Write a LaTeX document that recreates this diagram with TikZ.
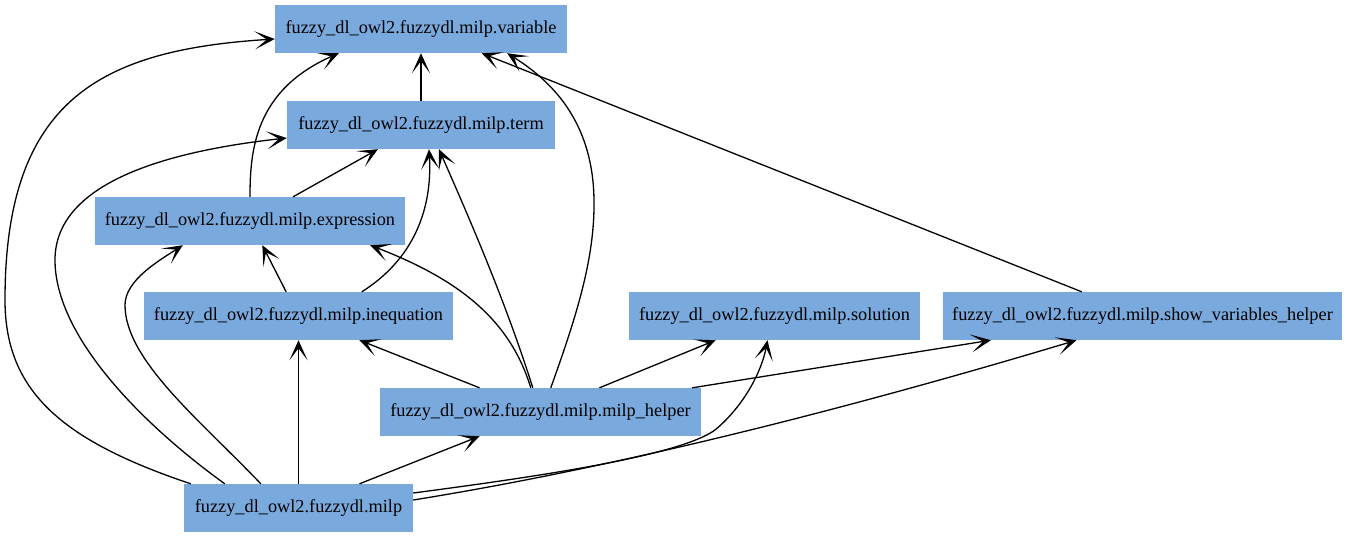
\documentclass[tikz,border=0pt]{standalone}
\usepackage{fontspec}
\setmainfont{Liberation Serif}
\usetikzlibrary{arrows.meta,positioning}
\definecolor{milpblue}{RGB}{122,169,221}

\begin{document}
\begin{tikzpicture}[
    x=1pt, y=-1pt,
    box/.style={fill=milpblue, minimum height=48pt, inner sep=0pt, font=\fontsize{18.3}{22}\selectfont},
    arrow/.style={-{Stealth[length=20pt,width=18pt,inset=12pt]}, line width=1.3pt}
]
    \useasboundingbox (0,0) rectangle (1347,539);

    \node[box, minimum width=292pt] (variable) at (421,29) {fuzzy\_dl\_owl2.fuzzydl.milp.variable};
    \node[box, minimum width=268pt] (term) at (421,125) {fuzzy\_dl\_owl2.fuzzydl.milp.term};
    \node[box, minimum width=310pt] (expression) at (250,221) {fuzzy\_dl\_owl2.fuzzydl.milp.expression};
    \node[box, minimum width=309pt] (inequation) at (298.5,316) {fuzzy\_dl\_owl2.fuzzydl.milp.inequation};
    \node[box, minimum width=291pt] (solution) at (774.5,316) {fuzzy\_dl\_owl2.fuzzydl.milp.solution};
    \node[box, minimum width=399pt] (showvars) at (1142.5,316) {fuzzy\_dl\_owl2.fuzzydl.milp.show\_variables\_helper};
    \node[box, minimum width=321pt] (helper) at (540.5,412) {fuzzy\_dl\_owl2.fuzzydl.milp.milp\_helper};
    \node[box, minimum width=229pt] (milp) at (298.5,508) {fuzzy\_dl\_owl2.fuzzydl.milp};

    % edges out of milp
    \draw[arrow] ([xshift=7pt]milp.north west) .. controls (60,440) and (5,390) .. (5,300)
        .. controls (5,100) and (100,50) .. ([yshift=-10pt]variable.west);
    \draw[arrow] ([xshift=41pt]milp.north west) .. controls (150,430) and (55,340) .. (55,260)
        .. controls (55,185) and (160,152) .. ([yshift=-13pt]term.west);
    \draw[arrow] ([xshift=77pt]milp.north west) .. controls (200,420) and (125,360) .. (125,305)
        .. controls (125,280) and (160,260) .. ([xshift=88pt]expression.south west);
    \draw[arrow] (milp) -- (inequation);
    \draw[arrow] (milp) -- (helper);
    \draw[arrow] ([yshift=15pt]milp.east) .. controls (550,475) and (680,455) .. (715,430)
        .. controls (745,405) and (762,370) .. ([xshift=-7pt]solution.south);
    \draw[arrow] ([yshift=8pt]milp.east) .. controls (550,478) and (760,435) .. ([xshift=-66pt]showvars.south);

    % edges out of milp_helper
    \draw[arrow] (helper) -- (inequation);
    \draw[arrow] ([xshift=151pt]helper.north west) .. controls (510,320) and (460,280) .. ([xshift=-35pt]expression.south east);
    \draw[arrow] ([xshift=153pt]helper.north west) .. controls (505,300) and (470,220) .. ([xshift=18pt]term.south);
    \draw[arrow] ([xshift=171pt]helper.north west) .. controls (575,320) and (595,260) .. (594,200)
        .. controls (593,120) and (550,80) .. ([xshift=-60pt]variable.south east);
    \draw[arrow] (helper) -- (solution);
    \draw[arrow] (helper) -- (showvars);

    % the rest
    \draw[arrow] (inequation) -- (expression);
    \draw[arrow] ([xshift=218pt]inequation.north west) .. controls (420,255) and (432,200) .. ([xshift=8pt]term.south);
    \draw[arrow] (expression) -- (term);
    \draw[arrow] (expression.north) .. controls (250,150) and (255,90) .. ([xshift=64pt]variable.south west);
    \draw[arrow] (term) -- (variable);
    \draw[arrow] (showvars) -- (variable);
\end{tikzpicture}
\end{document}
